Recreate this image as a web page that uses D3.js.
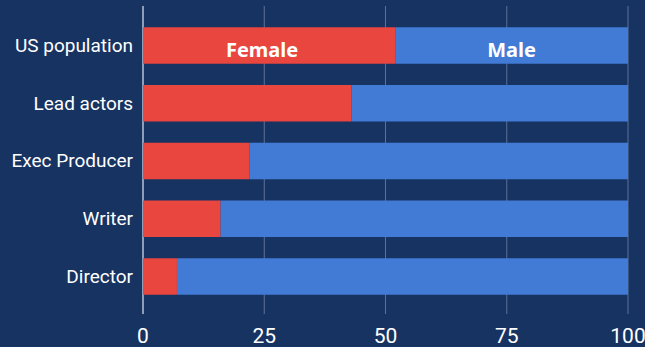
<!DOCTYPE html>
<html><head><meta charset="utf-8">
<script src="https://cdn.jsdelivr.net/npm/d3@7"></script>
<style>
html,body{margin:0;padding:0;background:#173362;}
svg{display:block;}
</style></head>
<body>
<svg id="chart" width="645" height="347"></svg>
<script>
const categories = ["US population","Lead actors","Exec Producer","Writer","Director"];
const female = [52, 43, 22, 16, 7];
const male = [48, 57, 78, 84, 93];
const ticks = [0, 25, 50, 75, 100];
const seriesNames = ["Female","Male"];

const svg = d3.select("#chart");
const W = 645, H = 347;
svg.append("rect").attr("width", W).attr("height", H).attr("fill", "#173362");

const x = d3.scaleLinear().domain([0, 100]).range([143, 628]);
const y = d3.scaleBand().domain(categories).range([6, 316]).paddingInner(0.368).paddingOuter(0.368);

// gridlines
const grid = svg.append("g");
grid.selectAll("line").data(ticks).join("line")
  .attr("x1", d => x(d)).attr("x2", d => x(d))
  .attr("y1", 6).attr("y2", 314)
  .attr("stroke", d => d === 0 ? "#b9c3d6" : "#5d7197")
  .attr("stroke-width", d => d === 0 ? 1.5 : 1);

// bars
const rows = categories.map((c, i) => ({cat: c, f: female[i], m: male[i]}));
svg.append("g").selectAll("rect").data(rows).join("rect")
  .attr("x", x(0)).attr("y", d => y(d.cat))
  .attr("width", d => x(d.f) - x(0)).attr("height", y.bandwidth())
  .attr("fill", "#e8463f");
svg.append("g").selectAll("rect").data(rows).join("rect")
  .attr("x", d => x(d.f)).attr("y", d => y(d.cat))
  .attr("width", d => x(d.f + d.m) - x(d.f)).attr("height", y.bandwidth())
  .attr("fill", "#427bd5");

// in-bar labels on first row
const r0 = rows[0];
svg.append("text")
  .attr("x", x(r0.f / 2) - 7).attr("y", y(r0.cat) + y.bandwidth() / 2 + 11)
  .attr("text-anchor", "middle").attr("fill", "#ffffff")
  .attr("font-family", "'Noto Sans', 'Open Sans', sans-serif").attr("font-weight", "bold").attr("font-size", 20)
  .text(seriesNames[0]);
svg.append("text")
  .attr("x", x(r0.f + r0.m / 2)).attr("y", y(r0.cat) + y.bandwidth() / 2 + 11)
  .attr("text-anchor", "middle").attr("fill", "#ffffff")
  .attr("font-family", "'Noto Sans', 'Open Sans', sans-serif").attr("font-weight", "bold").attr("font-size", 20)
  .text(seriesNames[1]);

// category labels
svg.append("g").selectAll("text").data(categories).join("text")
  .attr("x", 133).attr("y", d => y(d) + y.bandwidth() / 2)
  .attr("dy", "0.33em")
  .attr("text-anchor", "end").attr("fill", "#ffffff")
  .attr("font-family", "Roboto, sans-serif").attr("font-size", 19)
  .text(d => d);

// x tick labels
svg.append("g").selectAll("text").data(ticks).join("text")
  .attr("x", d => x(d)).attr("y", 343)
  .attr("text-anchor", "middle").attr("fill", "#ffffff")
  .attr("font-family", "Roboto, sans-serif").attr("font-size", 21)
  .text(d => d);
</script>
</body></html>
